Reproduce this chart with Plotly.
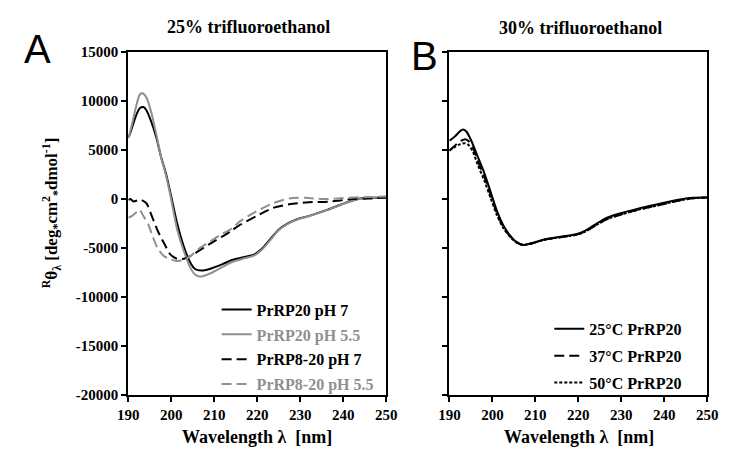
import plotly.graph_objects as go

W, H = 730, 457

# ---------------- data ----------------
# Panel A: 25% trifluoroethanol
wl_a1 = [190, 190.5, 191.2, 192, 192.7, 193.5, 194.2, 195.3, 196.5, 197.6, 198.7, 199.9, 200.6, 201.3,
         202.9, 204.4, 205.5, 207, 208.9, 211.9, 214.1, 216.8, 219.3, 221, 222.9, 225, 227, 229, 231.9,
         236.4, 240.9, 243.9, 247, 250]
prrp20_ph7 = [6300, 6800, 7760, 8740, 9290, 9390, 9060, 7920, 6280, 4320, 2680, 390, -1000, -2400,
              -4850, -6480, -7140, -7300, -7140, -6650, -6220, -5950, -5650, -5100, -4150, -3100, -2500,
              -2100, -1740, -1080, -330, 60, 130, 160]

wl_a2 = [190, 190.5, 191.2, 192, 192.7, 193.3, 194.2, 195.3, 196.5, 197.6, 198.7, 199.9, 201.3, 202.9,
         204.4, 205.5, 206.5, 207.5, 209, 212, 214, 217, 219.3, 221, 222.9, 225, 227, 229, 231.9, 236.4,
         240.9, 243.9, 247, 250]
prrp20_ph55 = [6200, 7000, 8300, 9800, 10700, 10800, 10370, 8900, 6600, 4300, 2500, 100, -3000, -5300,
               -7000, -7700, -7900, -7850, -7600, -6900, -6450, -6050, -5750, -5200, -4250, -3150, -2550,
               -2150, -1750, -1100, -350, 50, 150, 200]

wl_a3 = [190, 190.5, 191.2, 192, 192.6, 193.1, 194.2, 195.3, 196.8, 198.3, 199.8, 201.3, 202.9, 204.4,
         207.4, 210.4, 212.5, 214.1, 216.1, 219.8, 223.6, 227.4, 231.9, 236.4, 242.3, 246, 250]
prrp820_ph7 = [-100, 0, -250, -150, -50, -100, -430, -1570, -3210, -4520, -5670, -6090, -6090, -5830,
               -5010, -4190, -3650, -3200, -2600, -1740, -920, -530, -330, -270, 0, 50, 150]

wl_a4 = [190, 190.8, 192, 192.6, 193.5, 194.6, 195.7, 196.8, 198.3, 199.9, 201.3, 202.9, 204.4, 206.6,
         208.9, 211.9, 214.1, 216.1, 219.8, 223.6, 227.4, 231.2, 235, 238.7, 242.5, 246, 250]
prrp820_ph55 = [-1900, -1740, -1310, -1100, -1740, -2550, -3870, -5010, -5830, -6160, -6320, -6220, -5830,
                -5010, -4360, -3540, -3000, -2230, -1250, -430, 60, 130, 0, 60, 160, 200, 250]

# Panel B: 30% trifluoroethanol
wl_b1 = [190, 191.4, 192.5, 193.2, 194, 195.1, 196.6, 198.1, 199.6, 201.1, 202.6, 204.1, 205.5, 207.2,
         209.5, 212.1, 216.6, 219.5, 221.5, 223.4, 226.4, 229.4, 233.9, 238.4, 242.9, 246.7, 250]
t25 = [5950, 6440, 6930, 7100, 6870, 5950, 4320, 2680, 720, -1250, -2720, -3700, -4350, -4680,
       -4450, -4130, -3800, -3600, -3250, -2750, -1950, -1510, -980, -530, -100, 130, 160]

wl_b2 = [190, 191.4, 192.5, 193.7, 194.5, 195.5, 196.6, 198.1, 199.6, 201.1, 202.6, 204.1, 205.5, 207.2,
         209.5, 212.1, 216.6, 219.5, 221.5, 223.4, 226.4, 229.4, 233.9, 238.4, 242.9, 246.7, 250]
t37 = [4950, 5500, 5900, 6100, 5900, 5200, 3900, 2300, 400, -1500, -2900, -3800, -4400, -4700,
       -4500, -4150, -3850, -3650, -3350, -2850, -2100, -1650, -1100, -650, -200, 80, 150]
t50 = [4950, 5350, 5600, 5700, 5500, 4800, 3500, 1900, 100, -1700, -3000, -3850, -4400, -4700,
       -4500, -4150, -3850, -3650, -3350, -2850, -2100, -1650, -1100, -650, -200, 80, 150]

x_ticks = [190, 200, 210, 220, 230, 240, 250]
y_ticks = [-20000, -15000, -10000, -5000, 0, 5000, 10000, 15000]
y_ticktext = ["-20000", "-15000", "-10000", "-5000", "0", "5000", "10000", "15000"]

# ---------------- figure ----------------
SERIF = "Liberation Serif"
GRAY = "#8f8f8f"

def px_x(p):
    return p / W

def px_y(p):
    return 1 - p / H

fig = go.Figure()

def add(x, y, name, color, dash, xa, ya, legend, group):
    fig.add_trace(go.Scatter(
        x=x, y=y, mode="lines", name=name,
        line=dict(color=color, width=2, dash=dash, shape="spline", smoothing=0.7),
        xaxis=xa, yaxis=ya, legend=legend, legendgroup=group,
    ))

add(wl_a1, prrp20_ph7, "PrRP20 pH 7", "black", "solid", "x", "y", "legend", "a1")
add(wl_a2, prrp20_ph55, "<span style='color:%s'>PrRP20 pH 5.5</span>" % GRAY, GRAY, "solid", "x", "y", "legend", "a2")
add(wl_a3, prrp820_ph7, "PrRP8-20 pH 7", "black", "10px,5px", "x", "y", "legend", "a3")
add(wl_a4, prrp820_ph55, "<span style='color:%s'>PrRP8-20 pH 5.5</span>" % GRAY, GRAY, "10px,5px", "x", "y", "legend", "a4")

add(wl_b1, t25, "25°C PrRP20", "black", "solid", "x2", "y2", "legend2", "b1")
add(wl_b2, t37, "37°C PrRP20", "black", "10px,5px", "x2", "y2", "legend2", "b2")
add(wl_b2, t50, "50°C PrRP20", "black", "3px,2px", "x2", "y2", "legend2", "b3")

tickfont = dict(family=SERIF, size=15, color="black", weight="bold")

xcommon = dict(range=[190, 250], tickmode="array", tickvals=x_ticks, ticks="outside", ticklen=5,
               tickwidth=2, tickcolor="black", showline=True, linewidth=2, linecolor="black",
               mirror=True, showgrid=False, zeroline=False, tickfont=tickfont, fixedrange=True)
ycommon = dict(range=[-20000, 15000], tickmode="array", tickvals=y_ticks, ticktext=y_ticktext,
               ticks="outside", ticklen=5, tickwidth=2, tickcolor="black", showline=True, linewidth=2,
               linecolor="black", mirror=True, showgrid=False, zeroline=False, tickfont=tickfont,
               fixedrange=True)

ydom = [px_y(401), px_y(45.7)]

fig.update_layout(
    width=W, height=H,
    margin=dict(l=0, r=0, t=0, b=0),
    paper_bgcolor="white", plot_bgcolor="white",
    xaxis=dict(domain=[px_x(121), px_x(387)], anchor="y", **xcommon),
    yaxis=dict(domain=ydom, anchor="x", **ycommon),
    xaxis2=dict(domain=[px_x(452), px_x(718)], anchor="y2", **xcommon),
    yaxis2=dict(domain=ydom, anchor="x2", showticklabels=False, **ycommon),
    legend=dict(x=px_x(212), y=px_y(295), xanchor="left", yanchor="top",
                font=dict(family=SERIF, size=16, color="black", weight="bold"),
                bgcolor="rgba(0,0,0,0)", tracegroupgap=1, itemwidth=30),
    legend2=dict(x=px_x(555), y=px_y(315), xanchor="left", yanchor="top",
                 font=dict(family=SERIF, size=16, color="black", weight="bold"),
                 bgcolor="rgba(0,0,0,0)", tracegroupgap=3, itemwidth=30),
    showlegend=True,
)

ann = [
    dict(text="25% trifluoroethanol", x=px_x(245), y=px_y(20), font=dict(family=SERIF, size=18, weight="bold")),
    dict(text="30% trifluoroethanol", x=px_x(587), y=px_y(21), font=dict(family=SERIF, size=18, weight="bold")),
    dict(text="A", x=px_x(27), y=px_y(42), font=dict(family="Liberation Sans", size=40)),
    dict(text="B", x=px_x(426), y=px_y(50), font=dict(family="Liberation Sans", size=40)),
    dict(text="Wavelength λ  [nm]", x=px_x(254), y=px_y(445), font=dict(family=SERIF, size=18, weight="bold")),
    dict(text="Wavelength λ  [nm]", x=px_x(586), y=px_y(445), font=dict(family=SERIF, size=18, weight="bold")),
    dict(text="<sup>R</sup>θ<sub>λ</sub> [deg<sub>*</sub>cm<sup>2</sup><sub>*</sub>dmol<sup>-1</sup>]",
         x=px_x(42), y=px_y(212), textangle=-90, font=dict(family=SERIF, size=17, weight="bold")),
]
for a in ann:
    a.update(xref="paper", yref="paper", showarrow=False, xanchor="center", yanchor="middle")
    a["font"].setdefault("color", "black")
fig.update_layout(annotations=ann)

fig.write_html("out.html")
